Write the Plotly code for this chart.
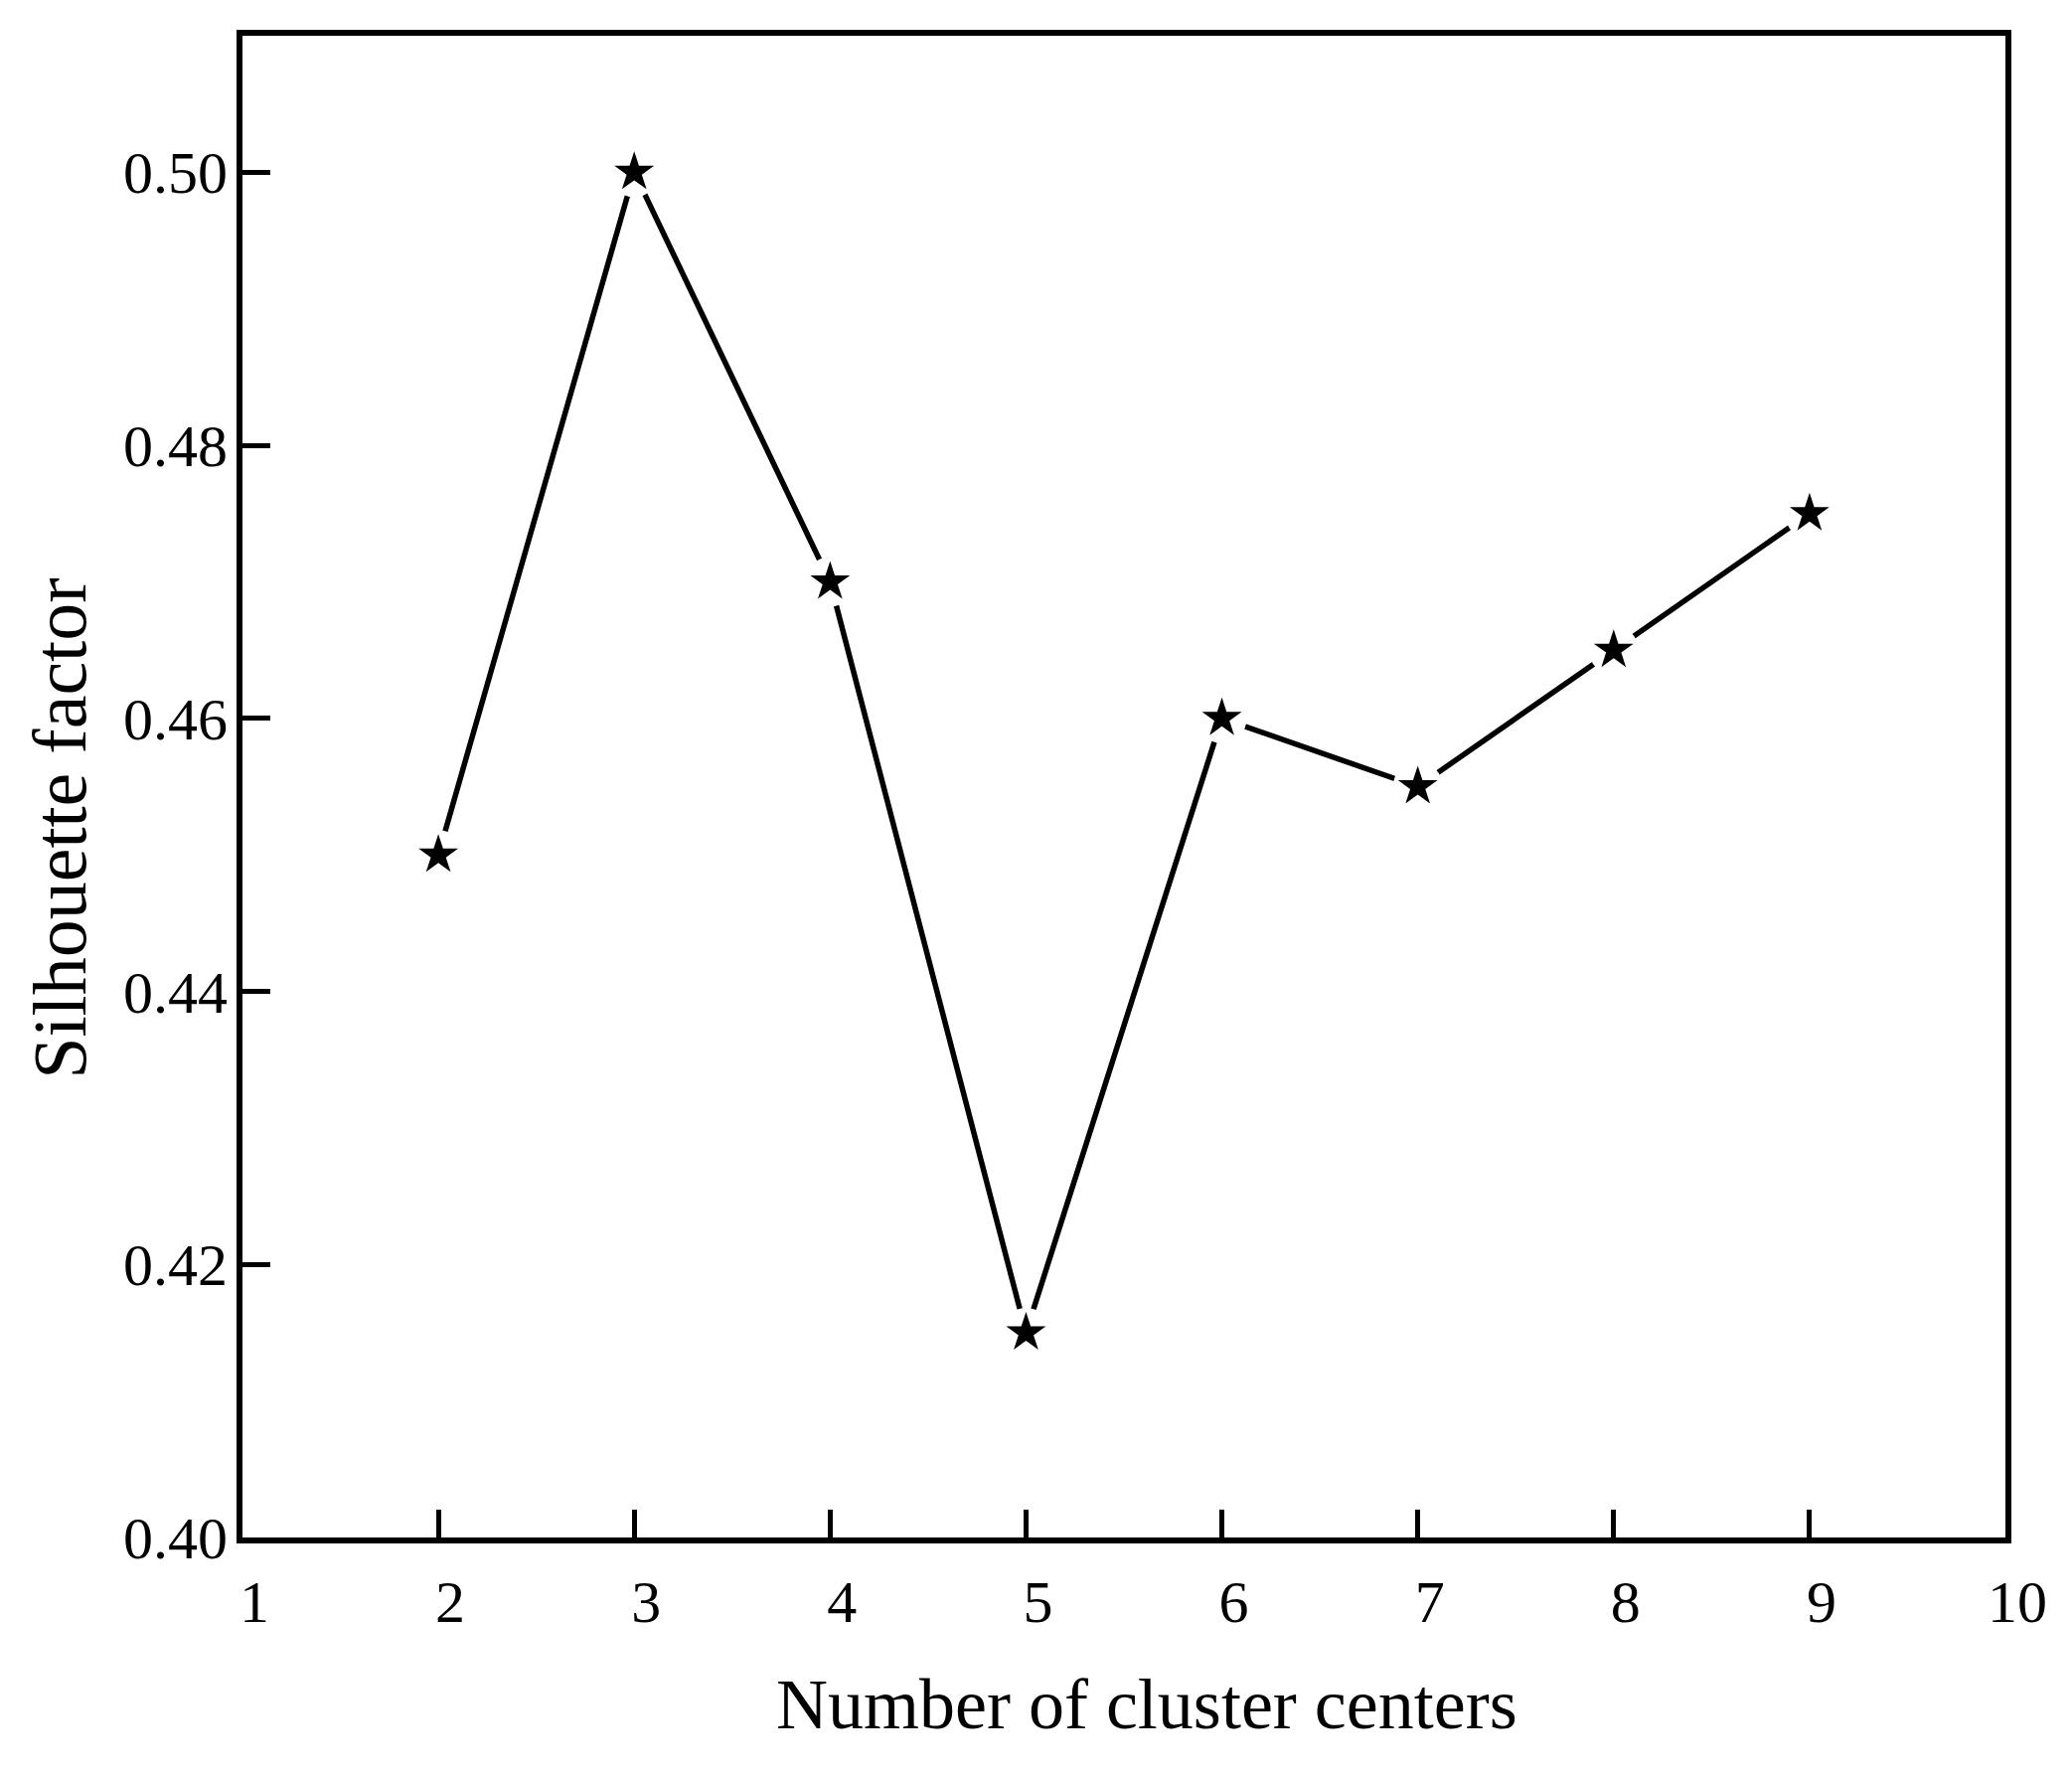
import plotly.graph_objects as go

clusters = [2, 3, 4, 5, 6, 7, 8, 9]
silhouette = [0.450, 0.500, 0.470, 0.415, 0.460, 0.455, 0.465, 0.475]
x_ticks = [1, 2, 3, 4, 5, 6, 7, 8, 9, 10]
y_ticks = [0.40, 0.42, 0.44, 0.46, 0.48, 0.50]

FONT = "Liberation Serif"

fig = go.Figure()
fig.add_trace(go.Scatter(x=clusters, y=silhouette, mode="lines",
                         line=dict(color="black", width=5.5), showlegend=False))
# white halo to create the gap between line and markers
fig.add_trace(go.Scatter(x=clusters, y=silhouette, mode="markers",
                         marker=dict(symbol="circle", size=50, color="white",
                                     line=dict(width=0)), showlegend=False))
fig.add_trace(go.Scatter(x=clusters, y=silhouette, mode="markers",
                         marker=dict(symbol="star", size=30, color="black",
                                     line=dict(width=0)), showlegend=False))

axis_common = dict(showline=True, linecolor="black", linewidth=6, mirror=True,
                   showgrid=False, zeroline=False, ticks="inside",
                   tickcolor="black", tickwidth=5, ticklen=28,
                   tickfont=dict(family=FONT, size=60, color="black"))

fig.update_xaxes(range=[1, 10], tickvals=x_ticks, ticktext=[str(v) for v in x_ticks],
                 ticklabelshift=12, ticklabelstandoff=7, **axis_common)
fig.update_yaxes(range=[0.40, 0.51], tickvals=y_ticks, tickformat=".2f",
                 ticklabelstandoff=-3, **axis_common)

fig.add_annotation(text="Number of cluster centers", xref="paper", yref="paper",
                   x=0.513, y=-0.111, showarrow=False, xanchor="center", yanchor="middle",
                   font=dict(family=FONT, size=72, color="black"))
fig.add_annotation(text="Silhouette factor", xref="paper", yref="paper",
                   x=-0.1037, y=0.472, showarrow=False, xanchor="center", yanchor="middle",
                   textangle=-90, font=dict(family=FONT, size=76, color="black"))

fig.update_layout(width=2085, height=1787, plot_bgcolor="white", paper_bgcolor="white",
                  margin=dict(l=244, r=67, t=36, b=240), showlegend=False)

fig.write_html("out.html", config={"displayModeBar": False},
               post_script="document.body.style.margin='0';")
